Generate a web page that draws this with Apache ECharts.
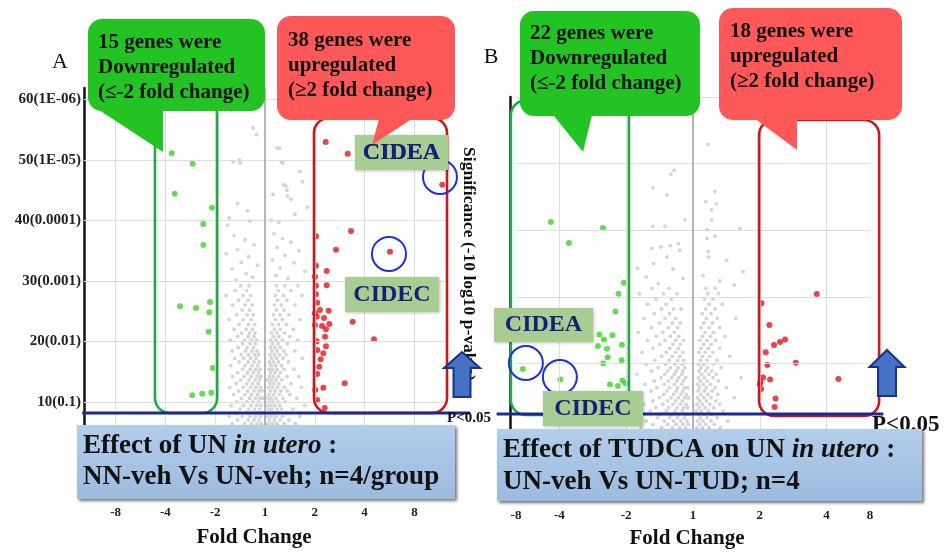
<!DOCTYPE html>
<html><head><meta charset="utf-8">
<script src="https://cdn.jsdelivr.net/npm/echarts@6/dist/echarts.min.js"></script>
<style>html,body{margin:0;padding:0;background:#fff}#c{width:947px;height:554px}</style>
</head><body><div id="c"></div>
<script>
const FONT = '"Liberation Serif","Times New Roman",serif';

// ---------- axis tick labels ----------
const foldTicksA = [-3, -2, -1, 0, 1, 2, 3];          // log2 fold change positions
const foldLabelsA = ['-8', '-4', '-2', '1', '2', '4', '8'];
const foldTicksB = [-2.65, -2, -1, 0, 1, 2, 2.65];
const foldLabelsB = ['-8', '-4', '-2', '1', '2', '4', '8'];
const sigTicksA = [10, 20, 30, 40, 50, 60];
const sigLabelsA = ['10(0.1)', '20(0.01)', '30(0.001)', '40(0.0001)', '50(1E-05)', '60(1E-06)'];
const gridXA = [-3, -2, -1, 1, 2, 3];
const gridYA = [10, 20, 30, 40, 50, 60];
const gridXB = [-2, -1, 1, 2];
const gridYB = [10, 20, 30, 40, 50, 60];

// ---------- panel A data: [log2 fold change, -10log10 p] ----------
const greenA = [[-1.873,51.11],[-1.452,49.39],[-1.813,44.43],[-1.064,42.11],[-1.239,39.41],[-1.239,35.94],
 [-1.707,25.80],[-1.386,25.52],[-1.104,26.51],[-1.118,24.81],[-1.131,21.60],[-1.050,15.60],[-1.460,11.08],
 [-1.259,11.35],[-1.078,11.51]];
const redA = [[1.219,52.98],[1.661,51.04],[3.560,45.91],[1.727,38.26],[1.426,35.16],[2.510,34.83],[1.024,37.38],
 [1.024,32.52],[1.239,31.64],[1.024,29.21],[1.239,29.28],[1.024,27.79],[1.050,26.40],[1.279,25.07],[1.038,24.08],
 [1.185,23.87],[1.291,22.87],[1.145,22.54],[1.225,22.00],[1.761,23.26],[2.189,20.34],[1.038,20.01],[1.225,19.19],
 [1.050,18.57],[1.171,18.03],[1.118,17.04],[1.090,15.81],[1.050,14.60],[1.600,13.07],[1.171,12.34],[1.050,10.30],
 [1.199,8.98],[1.004,24.64],[1.104,25.19],[1.205,20.77],[1.004,30.70],[1.010,11.96],[1.004,22.71]];
const graySparseA = [[-0.24,55.3],[0.24,52.0],[-0.17,54.2],[0.29,51.9],[-0.64,49.7],[-0.51,50.0],[0.33,49.7],
 [0.70,48.1],[-0.50,49.5],[0.36,49.5],[0.42,45.7],[0.37,45.9],[0.75,46.4],[0.44,45.0],[0.16,44.3],[0.45,44.1],
 [0.52,43.5],[-0.35,41.6],[-0.72,40.4],[-0.30,39.9],[-0.75,39.2],[0.12,40.0],[0.28,39.7],[0.60,41.0],[-0.55,42.8],
 [0.85,42.2],[-0.62,37.5],[-0.40,36.8],[-0.22,36.0],[-0.55,35.2],[-0.78,34.5],[-0.33,34.0],[-0.48,33.1],[-0.15,32.6],
 [-0.66,32.0],[-0.38,31.2],[-0.25,30.6],[-0.58,30.1],[0.18,37.8],[0.35,37.0],[0.52,36.4],[0.24,35.5],[0.68,35.0],
 [0.40,34.2],[0.15,33.5],[0.58,33.0],[0.30,32.2],[0.80,31.6],[0.22,30.9],[0.46,30.4]];
// rows: first value = significance, the rest = fold changes read at that level
const grayRowsA = [
 [6.4,-0.66,-0.41,-0.27,-0.16,-0.07,0.06,0.15,0.24,0.39,0.61],
 [7.0,-0.55,-0.34,-0.22,-0.12,0.09,0.19,0.30,0.48],
 [7.6,-0.72,-0.46,-0.30,-0.19,-0.09,0.05,0.13,0.22,0.35,0.70],
 [8.2,-0.60,-0.38,-0.25,-0.14,-0.05,0.10,0.17,0.27,0.44],
 [8.8,-0.50,-0.33,-0.21,-0.11,0.07,0.14,0.24,0.33,0.56],
 [9.4,-0.68,-0.43,-0.28,-0.17,-0.08,0.05,0.12,0.20,0.30,0.80],
 [10.0,-0.57,-0.36,-0.24,-0.13,0.09,0.16,0.26,0.41],
 [10.6,-0.47,-0.31,-0.19,-0.10,-0.05,0.06,0.13,0.22,0.36,0.64],
 [11.2,-0.63,-0.40,-0.27,-0.15,0.08,0.18,0.29,0.50],
 [11.8,-0.53,-0.35,-0.22,-0.12,-0.06,0.11,0.20,0.32,0.45],
 [12.4,-0.71,-0.44,-0.29,-0.18,-0.09,0.07,0.15,0.25,0.39,0.73],
 [13.0,-0.58,-0.37,-0.25,-0.14,0.10,0.18,0.28,0.52],
 [13.6,-0.49,-0.32,-0.20,-0.11,0.06,0.13,0.22,0.34],
 [14.2,-0.65,-0.42,-0.28,-0.16,-0.08,0.09,0.17,0.27,0.44,0.68],
 [14.8,-0.55,-0.35,-0.23,-0.13,0.11,0.20,0.31],
 [15.4,-0.45,-0.30,-0.19,-0.10,0.08,0.15,0.24,0.38,0.58],
 [16.0,-0.69,-0.40,-0.26,-0.15,0.12,0.21,0.33],
 [16.6,-0.52,-0.34,-0.22,-0.12,0.09,0.17,0.27,0.47],
 [17.2,-0.61,-0.43,-0.29,-0.18,0.13,0.23,0.36,0.75],
 [17.8,-0.48,-0.33,-0.21,-0.13,0.10,0.19,0.29,0.42],
 [18.4,-0.66,-0.39,-0.26,-0.16,0.14,0.24,0.38,0.60],
 [19.0,-0.54,-0.36,-0.23,0.11,0.20,0.31],
 [19.6,-0.45,-0.30,-0.19,0.15,0.26,0.45],
 [20.2,-0.70,-0.41,-0.27,-0.17,0.12,0.22,0.35,0.66],
 [20.8,-0.55,-0.34,-0.22,0.17,0.28,0.50],
 [21.4,-0.47,-0.31,-0.20,0.13,0.24,0.39],
 [22.0,-0.62,-0.38,-0.25,0.19,0.31,0.57],
 [22.8,-0.52,-0.33,-0.21,0.15,0.27,0.43],
 [23.6,-0.72,-0.44,-0.28,0.21,0.35,0.70],
 [24.4,-0.57,-0.36,-0.24,0.17,0.30,0.48],
 [25.2,-0.46,-0.31,0.23,0.38],
 [26.0,-0.65,-0.40,-0.26,0.19,0.33,0.60],
 [26.8,-0.53,-0.34,0.25,0.44],
 [27.6,-0.78,-0.44,-0.29,0.21,0.37,0.74],
 [28.4,-0.60,-0.37,0.27,0.52],
 [29.2,-0.49,-0.32,0.23,0.40,0.66]];

// ---------- panel B data ----------
const greenB = [[-2.682,39.75],[-2.127,41.25],[-1.858,38.10],[-1.348,40.35],[-1.034,32.14],[-1.116,30.48],
 [-1.161,27.82],[-1.401,24.37],[-1.333,23.62],[-1.206,24.25],[-1.288,22.24],[-1.064,22.83],[-1.278,20.95],
 [-1.344,20.02],[-1.067,20.52],[-1.243,16.87],[-1.056,17.47],[-1.011,17.02],[-2.547,19.20],[-1.985,17.62],
 [-1.124,16.65],[-1.423,22.65]];
const redB = [[1.853,30.45],[1.026,29.05],[1.143,25.80],[1.213,22.80],[1.303,23.25],[1.378,23.62],[1.089,21.70],
 [1.113,19.80],[1.539,20.14],[2.652,22.65],[1.049,17.92],[1.154,17.62],[2.177,17.70],[1.000,16.90],[1.011,17.25],
 [1.236,14.77],[1.221,13.50],[1.019,16.20]];
const graySparseB = [[0.22,52.9],[-0.28,49.0],[-0.33,48.4],[-0.60,46.4],[-0.39,45.3],[0.33,45.8],[0.19,44.3],
 [0.35,44.0],[0.28,43.1],[0.28,41.6],[-0.12,41.6],[-0.60,40.6],[-0.42,40.6],[0.70,40.3],[0.21,40.1],[0.33,39.1],
 [0.21,38.8],[-0.22,38.0],[-0.34,37.7],[-0.48,37.5],[-0.62,37.3],[-0.20,37.0],[0.23,36.8],[0.23,36.0],[0.75,33.8],
 [-0.59,35.0],[-0.39,36.0],[-0.83,34.3],[0.50,35.5],[-0.70,33.0],[-0.30,34.2],[0.15,33.2],[0.40,32.4],[-0.52,32.0],
 [-0.15,32.8],[0.62,31.8]];
const grayRowsB = [
 [10.4,-0.78,-0.47,-0.31,-0.20,-0.11,0.06,0.14,0.24,0.41],
 [10.9,-0.60,-0.38,-0.25,-0.15,-0.07,0.10,0.19,0.32],
 [11.4,-0.70,-0.43,-0.29,-0.18,-0.09,0.07,0.15,0.27,0.52],
 [11.9,-0.53,-0.35,-0.23,-0.13,0.11,0.21,0.36],
 [12.4,-0.86,-0.49,-0.32,-0.21,-0.11,-0.06,0.08,0.16,0.28],
 [12.9,-0.64,-0.40,-0.27,-0.16,0.05,0.12,0.23,0.45],
 [13.4,-0.56,-0.36,-0.24,-0.14,-0.08,0.09,0.18,0.31],
 [13.9,-0.74,-0.45,-0.30,-0.19,-0.10,0.06,0.14,0.25,0.40],
 [14.4,-0.60,-0.38,-0.26,-0.16,0.10,0.20,0.34],
 [14.9,-0.50,-0.33,-0.22,-0.12,-0.07,0.07,0.16,0.27,0.62],
 [15.4,-0.80,-0.44,-0.29,-0.18,-0.10,0.12,0.22,0.37],
 [15.9,-0.63,-0.39,-0.25,-0.15,0.08,0.17,0.29],
 [16.4,-0.54,-0.35,-0.23,-0.13,-0.08,0.10,0.20,0.33,0.50],
 [16.9,-0.72,-0.43,-0.28,-0.17,0.07,0.15,0.26],
 [17.4,-0.58,-0.37,-0.24,-0.14,0.11,0.21,0.38],
 [17.9,-0.48,-0.32,-0.21,-0.11,0.08,0.17,0.30,0.72],
 [18.4,-0.84,-0.42,-0.28,-0.17,0.13,0.24,0.35],
 [18.9,-0.62,-0.38,-0.25,-0.15,0.09,0.19,0.28],
 [19.4,-0.52,-0.34,-0.22,-0.12,0.12,0.22,0.42],
 [19.9,-0.70,-0.41,-0.27,-0.16,0.08,0.16,0.31],
 [20.5,-0.57,-0.36,-0.23,-0.14,0.11,0.21,0.36],
 [21.1,-0.47,-0.31,-0.20,0.14,0.25,0.55],
 [21.7,-0.76,-0.40,-0.26,-0.15,0.09,0.18,0.30],
 [22.3,-0.60,-0.35,-0.22,0.12,0.23,0.40],
 [22.9,-0.50,-0.30,-0.19,0.16,0.27],
 [23.5,-0.68,-0.42,-0.26,-0.14,0.10,0.21,0.34],
 [24.1,-0.55,-0.34,-0.21,0.14,0.26,0.48],
 [24.7,-0.82,-0.45,-0.28,0.18,0.31],
 [25.4,-0.62,-0.37,-0.23,0.12,0.24,0.40],
 [26.1,-0.50,-0.31,-0.19,0.16,0.29],
 [26.8,-0.73,-0.42,-0.26,0.20,0.36,0.64],
 [27.5,-0.58,-0.35,0.14,0.27],
 [28.2,-0.47,-0.29,-0.18,0.19,0.33],
 [28.9,-0.68,-0.40,0.24,0.44],
 [29.7,-0.55,-0.32,0.17,0.30],
 [30.5,-0.80,-0.44,-0.24,0.22,0.38],
 [31.3,-0.61,-0.36,0.19,0.33]];

// ---------- annotations in data coordinates ----------
// boxes: [xMin, xMax, yMin, yMax]
const boxDownA = [-2.21, -0.96, 8.15, 60];
const boxUpA = [0.984, 3.655, 8.15, 56.95];
const boxDownB = [-2.727, -0.959, 12.3, 59.5];
const boxUpB = [0.989, 2.787, 12.15, 56.55];
const circlesA = [[3.514, 47.19], [2.49, 34.47]];
const circlesB = [[-2.502, 20.1], [-1.993, 18.0]];
const pLineA = [-3.67, 4.12, 8.15];
const pLineB = [-2.94, 2.85, 12.45];

function rowsToPoints(rows) {
  const out = [];
  rows.forEach(r => { for (let i = 1; i < r.length; i++) out.push([r[i], r[0]]); });
  return out;
}
function labeler(ticks, labels) {
  return function (v) {
    const i = ticks.findIndex(t => Math.abs(t - v) < 1e-6);
    return i < 0 ? '' : labels[i];
  };
}

const chart = echarts.init(document.getElementById('c'), null, { renderer: 'canvas' });

const gridLineStyle = { color: '#dedede', width: 1, type: 'solid' };
function gridMarks(xs, ys) {
  return {
    silent: true, symbol: 'none', label: { show: false }, animation: false,
    lineStyle: gridLineStyle,
    data: xs.map(v => ({ xAxis: v })).concat(ys.map(v => ({ yAxis: v })))
      .concat([{ xAxis: 0, lineStyle: { color: '#a3a3a3', width: 1.6, type: 'solid' } }])
  };
}
const xLabelBase = { fontFamily: FONT, fontWeight: 'bold', fontSize: 13, color: '#222' };

chart.setOption({
  animation: false,
  backgroundColor: '#fff',
  grid: [
    { left: 84, top: 88, width: 364, height: 409, outerBoundsMode: 'none' },
    { left: 516, top: 97, width: 354, height: 400, outerBoundsMode: 'none' }
  ],
  xAxis: [
    { type: 'value', gridIndex: 0, min: -3.635, max: 3.675, minInterval: 1, maxInterval: 1,
      axisLine: { show: false, onZero: false }, axisTick: { show: false }, splitLine: { show: false },
      axisLabel: Object.assign({ customValues: foldTicksA, formatter: labeler(foldTicksA, foldLabelsA), margin: 9 }, xLabelBase) },
    { type: 'value', gridIndex: 1, min: -2.65, max: 2.65, minInterval: 1, maxInterval: 1,
      axisLine: { show: false, onZero: false }, axisTick: { show: false }, splitLine: { show: false },
      axisLabel: Object.assign({ customValues: foldTicksB, formatter: labeler(foldTicksB, foldLabelsB), margin: 12,
        showMinLabel: true, showMaxLabel: true, hideOverlap: false }, xLabelBase) }
  ],
  yAxis: [
    { type: 'value', gridIndex: 0, min: -5.74, max: 61.91, minInterval: 10, maxInterval: 10,
      axisLine: { show: true, onZero: false, lineStyle: { color: '#111', width: 2.5 } },
      axisTick: { show: false }, splitLine: { show: false },
      axisLabel: { customValues: sigTicksA, formatter: labeler(sigTicksA, sigLabelsA), margin: 3,
        fontFamily: FONT, fontWeight: 'bold', fontSize: 15, color: '#222' } },
    { type: 'value', gridIndex: 1, min: 0, max: 60, interval: 10, offset: 6,
      axisLine: { show: true, onZero: false, lineStyle: { color: '#111', width: 2.5 } },
      axisTick: { show: false }, splitLine: { show: false }, axisLabel: { show: false } }
  ],
  series: [
    { type: 'scatter', xAxisIndex: 0, yAxisIndex: 0, data: [], z: 1, markLine: gridMarks(gridXA, gridYA) },
    { type: 'scatter', xAxisIndex: 1, yAxisIndex: 1, data: [], z: 1, markLine: gridMarks(gridXB, gridYB) },
    { type: 'scatter', xAxisIndex: 0, yAxisIndex: 0, symbolSize: 3.9, silent: true, z: 2,
      itemStyle: { color: '#cbcbcb' }, data: graySparseA.concat(rowsToPoints(grayRowsA)) },
    { type: 'scatter', xAxisIndex: 1, yAxisIndex: 1, symbolSize: 3.9, silent: true, z: 2,
      itemStyle: { color: '#cbcbcb' }, data: graySparseB.concat(rowsToPoints(grayRowsB)) },
    { type: 'scatter', xAxisIndex: 0, yAxisIndex: 0, symbolSize: 6, z: 3, itemStyle: { color: '#3fd22a' }, data: greenA },
    { type: 'scatter', xAxisIndex: 0, yAxisIndex: 0, symbolSize: 6, z: 3, itemStyle: { color: '#e3151d' }, data: redA },
    { type: 'scatter', xAxisIndex: 1, yAxisIndex: 1, symbolSize: 6, z: 3, itemStyle: { color: '#3fd22a' }, data: greenB },
    { type: 'scatter', xAxisIndex: 1, yAxisIndex: 1, symbolSize: 6, z: 3, itemStyle: { color: '#e3151d' }, data: redB }
  ]
});

// ---------- overlay annotations ----------
function P(g, pt) { return chart.convertToPixel({ gridIndex: g }, pt); }
function boxEl(g, b, color) {
  const a = P(g, [b[0], b[3]]), c = P(g, [b[1], b[2]]);
  return { type: 'rect', z: 50, shape: { x: a[0], y: a[1], width: c[0] - a[0], height: c[1] - a[1], r: 15 },
    style: { fill: 'none', stroke: color, lineWidth: 2.6 } };
}
function circleEl(g, c) {
  const p = P(g, c);
  return { type: 'circle', z: 52, shape: { cx: p[0], cy: p[1], r: 17 }, style: { fill: 'none', stroke: '#1f2fe0', lineWidth: 2 } };
}
function pLineEl(g, l) {
  const a = P(g, [l[0], l[2]]), b = P(g, [l[1], l[2]]);
  return { type: 'line', z: 52, shape: { x1: a[0], y1: a[1], x2: b[0], y2: b[1] }, style: { stroke: '#1c2a90', lineWidth: 3 } };
}
function fontStyle(size, weight, italic) {
  return { fontSize: size, fontWeight: weight, fontFamily: FONT, fontStyle: italic ? 'italic' : 'normal',
    font: (italic ? 'italic ' : '') + weight + ' ' + size + 'px ' + FONT };
}
function txt(text, x, y, size, weight, opts) {
  return Object.assign({ type: 'text', z: 70, x: x, y: y,
    style: Object.assign({ text: text, fill: '#111', align: 'left', verticalAlign: 'top',
      textAlign: 'left', textVerticalAlign: 'top' }, fontStyle(size, weight), (opts && opts.style) || {}) }, (opts && opts.el) || {});
}
const CENTER = { align: 'center', verticalAlign: 'middle', textAlign: 'center', textVerticalAlign: 'middle' };
function callout(rect, tail, color, text, tx, ty) {
  return [
    { type: 'rect', z: 60, shape: { x: rect[0], y: rect[1], width: rect[2] - rect[0], height: rect[3] - rect[1], r: 14 },
      style: { fill: color } },
    { type: 'polygon', z: 60, shape: { points: tail }, style: { fill: color } },
    txt(text, tx, ty, 21, 'bold', { style: { lineHeight: 25 } })
  ];
}
function geneLabel(text, x0, y0, x1, y1) {
  return [
    { type: 'rect', z: 55, shape: { x: x0, y: y0, width: x1 - x0, height: y1 - y0 },
      style: { fill: '#a8cd92', shadowBlur: 3, shadowColor: 'rgba(0,0,0,0.25)', shadowOffsetX: 1, shadowOffsetY: 1 } },
    txt(text, (x0 + x1) / 2, (y0 + y1) / 2, 24, 'bold', { style: Object.assign({ fill: '#151f78' }, CENTER) })
  ];
}
function arrow(cx, top, headY, bottom, hw, sw) {
  return { type: 'polygon', z: 65,
    shape: { points: [[cx, top], [cx + hw, headY], [cx + sw, headY], [cx + sw, bottom], [cx - sw, bottom], [cx - sw, headY], [cx - hw, headY]] },
    style: { fill: '#4472c4', stroke: '#1b2f86', lineWidth: 2, lineJoin: 'miter' } };
}
function infoBox(x0, y0, x1, y1, text, tx, ty, lh) {
  const it = Object.assign({ lineHeight: lh, fill: '#111', color: '#111' }, fontStyle(27, 'bold', true));
  return [
    { type: 'rect', z: 80, shape: { x: x0, y: y0, width: x1 - x0, height: y1 - y0 },
      style: { fill: { type: 'linear', x: 0, y: 0, x2: 0, y2: 1,
        colorStops: [{ offset: 0, color: '#b3cdea' }, { offset: 1, color: '#9dbbdf' }] },
        shadowBlur: 3, shadowOffsetX: 2, shadowOffsetY: 2, shadowColor: 'rgba(0,0,0,0.55)' } },
    { type: 'text', z: 81, x: tx, y: ty,
      style: Object.assign({ text: text, fill: '#111', lineHeight: lh, align: 'left', verticalAlign: 'top',
        textAlign: 'left', textVerticalAlign: 'top', rich: { it: it } }, fontStyle(27, 'bold')) }
  ];
}

let g = [];
g.push(boxEl(0, boxDownA, '#27a648'), boxEl(0, boxUpA, '#c8191c'), boxEl(1, boxDownB, '#27a648'), boxEl(1, boxUpB, '#c8191c'));
circlesA.forEach(c => g.push(circleEl(0, c)));
circlesB.forEach(c => g.push(circleEl(1, c)));
g.push(pLineEl(0, pLineA), pLineEl(1, pLineB));
g = g.concat(geneLabel('CIDEA', 355, 135, 448, 170), geneLabel('CIDEC', 345, 277, 439, 312),
  geneLabel('CIDEA', 494, 308, 593, 342), geneLabel('CIDEC', 543, 391, 643, 426));
g = g.concat(
  callout([88, 19, 265, 111], [[93, 106], [163, 106], [163, 152]], '#22c322', '15 genes were\nDownregulated\n(≤-2 fold change)', 98, 30),
  callout([277, 16, 455, 120], [[380, 115], [418, 115], [372, 145]], '#ff5858', '38 genes were\nupregulated\n(≥2 fold change)', 288, 28),
  callout([520, 11, 700, 116], [[550, 111], [593, 111], [583, 152]], '#22c322', '22 genes were\nDownregulated\n(≤-2 fold change)', 530, 21),
  callout([719, 8, 902, 120], [[750, 115], [797, 115], [797, 150]], '#ff5858', '18 genes were\nupregulated\n(≥2 fold change)', 730, 19)
);
// the CIDEA label text sits above the red callout tail
g.push(txt('CIDEA', 401.5, 152.5, 24, 'bold', { el: { z: 62 }, style: Object.assign({ fill: '#151f78' }, CENTER) }));
g.push(txt('Significance (-10 log10 p-value)', 469, 264, 17.5, 'bold', { el: { z: 58, rotation: -Math.PI / 2 }, style: CENTER }));
g.push(arrow(462, 352, 368, 397, 18, 8.5), arrow(887, 350, 367, 396, 17.5, 9));
g.push(txt('P<0.05', 447, 418, 15, 'bold', { style: { verticalAlign: 'middle', textVerticalAlign: 'middle' } }));
g.push(txt('P<0.05', 872, 425, 23, 'bold', { style: { verticalAlign: 'middle', textVerticalAlign: 'middle' } }));
g = g.concat(
  infoBox(77, 425, 455, 499, 'Effect of UN {it|in utero} :\nNN-veh Vs UN-veh; n=4/group', 83, 431, 31),
  infoBox(497, 429, 922, 501, 'Effect of TUDCA on UN {it|in utero} :\nUN-veh Vs UN-TUD; n=4', 503, 434, 32)
);
g.push(txt('A', 60, 62, 22, 'normal', { style: CENTER }));
g.push(txt('B', 491, 57, 22, 'normal', { style: CENTER }));
g.push(txt('Fold Change', 254, 538, 21, 'bold', { style: CENTER }));
g.push(txt('Fold Change', 687, 539, 21, 'bold', { style: CENTER }));

chart.setOption({ graphic: { elements: g } });
</script>
</body></html>
